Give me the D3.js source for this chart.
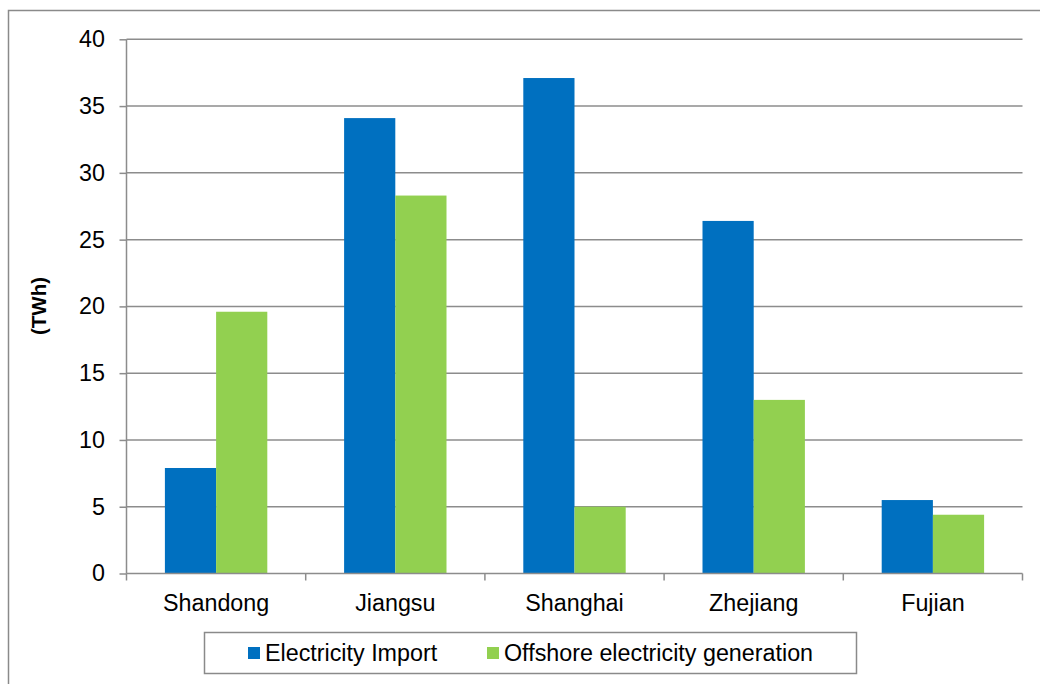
<!DOCTYPE html>
<html><head><meta charset="utf-8">
<script src="https://cdn.jsdelivr.net/npm/d3@7"></script>
<style>body{margin:0;background:#fff}svg{display:block}text{font-family:"Liberation Sans",Arial,sans-serif;fill:#000}</style>
</head><body><svg id="c" width="1040" height="684"></svg>
<script>
const categories = ["Shandong","Jiangsu","Shanghai","Zhejiang","Fujian"];
const seriesNames = ["Electricity Import","Offshore electricity generation"];
const electricityImport = [7.9, 34.1, 37.1, 26.4, 5.5];
const offshoreGeneration = [19.6, 28.3, 5.0, 13.0, 4.4];
const yTicks = [0,5,10,15,20,25,30,35,40];
const colors = ["#0070C0","#92D050"];

const svg = d3.select("#c");
const L=126.5, R=1022.5, T=39.3, B=573.5;
const FS = 23.3;
svg.append("rect").attr("x",8.5).attr("y",10.5).attr("width",1100).attr("height",800)
  .attr("fill","#fff").attr("stroke","#8a8a8a").attr("stroke-width",1.5);

const x = d3.scaleBand().domain(categories).range([L,R]).paddingInner(1.5/3.5).paddingOuter(0.75/3.5);
const xb = d3.scaleBand().domain(categories).range([L,R]);
const xs = d3.scaleBand().domain([0,1]).range([0,x.bandwidth()]);
const y = d3.scaleLinear().domain([0,40]).range([B,T]);

// gridlines
svg.append("g").selectAll("line").data(yTicks.filter(d=>d>0)).join("line")
  .attr("x1",L).attr("x2",R).attr("y1",d=>y(d)).attr("y2",d=>y(d))
  .attr("stroke","#8c8c8c").attr("stroke-width",1.5);

// bars
const data = [electricityImport, offshoreGeneration];
data.forEach((arr,si)=>{
  svg.append("g").selectAll("rect").data(arr).join("rect")
    .attr("x",(d,i)=>x(categories[i])+xs(si))
    .attr("width",xs.bandwidth())
    .attr("y",d=>y(d)).attr("height",d=>B-y(d))
    .attr("fill",colors[si]);
});

// y axis
const ya = svg.append("g").attr("transform",`translate(${L},0)`)
  .call(d3.axisLeft(y).tickValues(yTicks).tickSize(7).tickPadding(14.5));
ya.select(".domain").attr("stroke","#8c8c8c").attr("stroke-width",1.5).attr("d",`M0,${T}V${B}`);
ya.selectAll(".tick line").attr("stroke","#8c8c8c").attr("stroke-width",1.5);
ya.selectAll(".tick text").attr("font-size",FS).attr("font-family","Liberation Sans, Arial, sans-serif").attr("fill","#000");

// x axis
const xg = svg.append("g");
xg.append("line").attr("x1",L).attr("x2",R).attr("y1",B).attr("y2",B).attr("stroke","#8c8c8c").attr("stroke-width",1.5);
const bounds = categories.map(c=>xb(c)).concat([R]);
xg.selectAll("line.tk").data(bounds).join("line").attr("class","tk")
  .attr("x1",d=>d).attr("x2",d=>d).attr("y1",B).attr("y2",B+7)
  .attr("stroke","#8c8c8c").attr("stroke-width",1.5);
xg.selectAll("text").data(categories).join("text")
  .attr("x",d=>xb(d)+xb.bandwidth()/2).attr("y",611)
  .attr("text-anchor","middle").attr("font-size",FS).text(d=>d);

// y label
svg.append("text").attr("transform","translate(46,306) rotate(-90)")
  .attr("text-anchor","middle").attr("font-size",20.5).attr("font-weight","bold").text("(TWh)");

// legend
const lg = svg.append("g");
lg.append("rect").attr("x",204.5).attr("y",632.5).attr("width",652).attr("height",41)
  .attr("fill","#fff").attr("stroke","#8a8a8a").attr("stroke-width",1.5);
const legX = [248, 487];
seriesNames.forEach((n,i)=>{
  lg.append("rect").attr("x",legX[i]).attr("y",647).attr("width",12).attr("height",12).attr("fill",colors[i]);
  lg.append("text").attr("x",legX[i]+17).attr("y",661).attr("font-size",FS).text(n);
});
</script></body></html>
